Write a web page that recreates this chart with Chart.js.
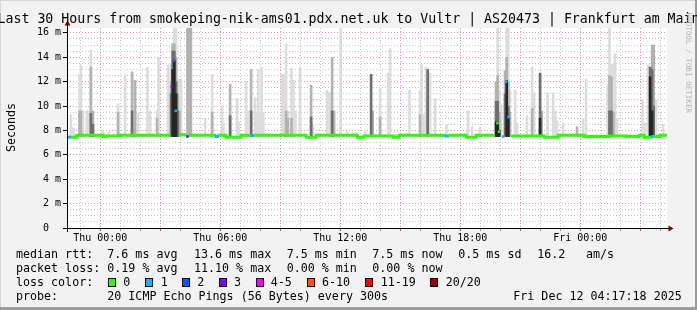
<!DOCTYPE html>
<html><head><meta charset="utf-8">
<script src="https://cdn.jsdelivr.net/npm/chart.js@4.4.0/dist/chart.umd.min.js"></script>
<style>html,body{margin:0;padding:0;background:#f2f2f2;overflow:hidden}canvas{display:block}</style>
</head><body>
<canvas id="c" width="697" height="310"></canvas>
<script>
const titleText = 'Last 30 Hours from smokeping-nik-ams01.pdx.net.uk to Vultr | AS20473 | Frankfurt am Main';
const yAxisTitle = 'Seconds';
const watermark = 'RRDTOOL / TOBI OETIKER';
// x values: hours relative to Thu 00:00
const xStart = -1.665, xEnd = 28.335;
const xLabelHours = [0, 6, 12, 18, 24];
const xLabelTexts = ['Thu 00:00', 'Thu 06:00', 'Thu 12:00', 'Thu 18:00', 'Fri 00:00'];
const yLabelValues = [0, 2, 4, 6, 8, 10, 12, 14, 16];
const yLabelTexts = ['0  ', '2 m', '4 m', '6 m', '8 m', '10 m', '12 m', '14 m', '16 m'];
const yMax = 16.4;
const smokeBase = 7.5;

const smokeTimes = [-1.47,-1.34,-1.04,-0.97,-0.87,-0.67,-0.57,-0.47,-0.37,0.11,0.44,0.89,1.24,1.59,1.74,1.89,2.36,2.49,2.84,2.91,3.39,
 3.54,3.62,3.70,3.79,3.87,3.96,4.04,4.36,4.45,4.53,5.24,5.59,
 6.09,6.16,6.49,6.84,6.91,7.29,7.36,7.54,7.74,7.82,7.90,7.99,8.07,8.15,9.09,9.17,9.29,9.38,9.56,9.66,9.76,9.99,10.54,10.62,11.34,11.46,11.59,11.69,12.02,12.34,12.79,13.24,
 13.54,13.62,13.99,14.39,14.49,15.29,15.46,15.99,16.07,16.16,16.29,16.37,16.49,16.74,17.31,18.39,18.59,18.99,
 19.79,19.87,19.95,20.04,20.24,20.32,20.40,20.48,20.74,
 20.84,21.33,21.59,21.69,21.99,22.07,22.36,22.64,22.74,22.84,23.14,23.84,24.14,24.29,25.36,25.46,25.56,25.66,25.74,25.84,27.11,27.24,27.39,27.49,27.59,27.67,27.79,28.14];
const smokeLight = [9.3,8.2,12.6,13.3,9.6,9.6,9.6,14.6,null,8.0,7.9,10.2,12.6,null,null,9.4,13.2,9.6,9.6,14.0,13.4,
 13.4,15.1,16.5,16.5,12.2,12.2,12.2,null,null,null,9.0,12.6,
 10.0,8.6,null,10.6,8.7,12.0,9.6,null,10.7,9.5,13.0,9.5,13.2,9.5,12.6,12.6,15.1,9.6,13.1,12.1,9.6,13.2,null,8.5,11.3,11.1,null,null,16.5,7.9,7.8,8.0,
 null,null,11.4,12.7,14.7,7.8,11.3,11.3,13.4,9.3,13.2,null,12.7,10.6,8.5,9.6,8.3,8.3,
 12.0,16.5,11.3,10.1,12.9,16.5,16.5,11.3,11.3,
 8.6,9.2,13.2,11.1,null,null,11.1,11.1,9.6,8.8,8.6,null,9.0,12.2,11.8,16.5,13.4,13.4,14.3,9.0,10.5,8.6,13.4,null,null,null,10.5,8.5];
const smokeMid = [null,null,9.6,9.6,null,null,null,13.2,9.6,null,null,9.5,null,12.8,12.1,null,null,null,9.0,null,null,
 12.0,15.1,15.1,14.0,11.0,9.6,null,16.5,16.5,16.5,null,9.5,
 null,null,11.8,null,null,null,null,13.0,null,null,null,null,null,null,null,null,9.6,9.0,9.0,null,null,null,11.7,null,null,null,14.0,9.6,null,null,null,null,
 null,9.6,9.1,null,null,null,null,9.3,null,null,null,10.5,null,null,null,null,null,null,
 12.0,12.5,9.5,null,12.9,14.0,12.0,9.5,null,
 null,null,9.8,null,null,9.6,null,null,null,null,null,8.3,null,null,null,12.5,12.4,9.5,null,null,null,null,null,null,15.0,15.0,null,null];
const smokeDark = [null,null,null,null,null,null,null,9.4,8.5,null,null,null,null,9.6,null,null,null,null,null,null,null,
 11.0,14.5,14.5,12.0,9.6,null,null,null,null,null,null,null,
 null,null,9.2,null,null,null,null,9.6,null,null,null,null,null,null,null,null,null,null,null,null,null,null,9.1,null,null,null,9.6,null,null,null,null,null,
 12.6,null,null,null,null,null,null,null,null,null,null,13.0,null,null,null,null,null,null,
 10.4,10.4,null,null,11.0,null,10.0,null,null,
 null,null,null,null,12.7,null,null,null,null,null,null,null,null,null,null,9.6,9.6,null,null,null,null,null,null,13.2,13.0,10.0,null,null];
const smokeBlack = [null,null,null,null,null,null,null,null,null,null,null,null,null,null,null,null,null,null,null,null,null,
 null,13.0,13.7,11.0,null,null,null,null,null,null,null,null,
 null,null,null,null,null,null,null,null,null,null,null,null,null,null,null,null,null,null,null,null,null,null,null,null,null,null,null,null,null,null,null,null,
 null,null,null,null,null,null,null,null,null,null,null,null,null,null,null,null,null,null,
 8.7,8.7,8.0,null,null,12.1,9.0,null,null,
 null,null,null,null,9.0,null,null,null,null,null,null,null,null,null,null,null,null,null,null,null,null,null,null,12.4,9.6,null,null,null];

// median rtt runs (start hour, value, loss class index)
const medianTimes = [-1.665,-1.47,-1.17,0.14,0.29,0.94,3.50,3.92,4.32,4.42,5.71,5.86,6.29,7.04,7.52,7.69,10.29,10.79,12.84,13.19,14.64,14.94,17.19,17.39,18.29,18.79,19.72,20.54,22.19,22.89,24.19,25.44,26.29,26.94,27.19,27.54,27.64,28.0];
const medianValues = [7.45,7.45,7.6,7.5,7.55,7.6,null,7.65,null,7.6,7.5,7.6,7.45,7.6,7.6,7.6,7.45,7.6,7.45,7.55,7.45,7.6,7.55,7.6,7.45,7.6,null,7.55,7.45,7.6,7.5,7.55,7.5,7.6,7.45,7.5,7.5,7.6];
const medianLoss = [1,0,0,0,0,0,0,0,0,0,1,0,0,0,1,0,0,0,0,0,0,0,1,0,0,0,0,0,0,0,0,0,0,0,0,1,0,0];
const lossPointTimes = [3.58,3.68,3.77,4.36,19.86,19.94,20.14,20.29,20.41];
const lossPointValues = [11.6,13.7,9.6,7.5,8.6,7.9,7.5,12.0,9.1];
const lossPointLoss = [3,2,1,3,0,0,1,1,1];

const lossLabels = ['0','1','2','3','4-5','6-10','11-19','20/20'];
const lossColors = ['#26ff00','#00b8ff','#0059ff','#7e00ff','#ff00ff','#ff5500','#ff0000','#a10000'];
const statsMedian = ['median rtt:','7.6 ms avg','13.6 ms max','7.5 ms min','7.5 ms now','0.5 ms sd','16.2','am/s'];
const statsLoss = ['packet loss:','0.19 % avg','11.10 % max','0.00 % min','0.00 % now'];
const lossColorLabel = 'loss color:';
const probeTexts = ['probe:','20 ICMP Echo Pings (56 Bytes) every 300s','Fri Dec 12 04:17:18 2025'];

// ---------- build ----------
const MONO = '"DejaVu Sans Mono", monospace';
function smokeSet(tops, color, order) {
  const data = [];
  smokeTimes.forEach((t, i) => { if (tops[i] != null) data.push({x: t, y: [smokeBase, Math.min(tops[i], yMax)]}); });
  return {type: 'bar', data, backgroundColor: color, barThickness: 2, grouped: false, borderWidth: 0, order};
}
const medPts = [], medCols = [];
medianTimes.forEach((t, i) => {
  const tEnd = i + 1 < medianTimes.length ? medianTimes[i + 1] : xEnd;
  const v = medianValues[i];
  const col = lossColors[medianLoss[i]];
  medPts.push({x: t, y: v}); medCols.push(col);
  medPts.push({x: tEnd, y: v}); medCols.push(col);
});
const gridHours = []; for (let h = Math.ceil(xStart); h <= xEnd; h++) gridHours.push(h);
const gridY = []; for (let v = 0; v <= 16; v += 0.5) gridY.push(v);
const RED = 'rgba(232,110,110,0.75)', GRAY = 'rgba(150,150,150,0.55)';

const framePlugin = {
  id: 'frame',
  beforeDraw(chart) {
    const {ctx, chartArea: a} = chart;
    ctx.save();
    ctx.fillStyle = '#f2f2f2'; ctx.fillRect(0, 0, 697, 310);
    ctx.fillStyle = '#d6d6d6'; ctx.fillRect(0, 0, 697, 1); ctx.fillRect(0, 0, 1, 310);
    ctx.fillStyle = '#9c9c9c'; ctx.fillRect(695, 0, 2, 310); ctx.fillRect(0, 307, 697, 3);
    ctx.fillStyle = '#ffffff'; ctx.fillRect(a.left, a.top, a.right - a.left, a.bottom - a.top);
    ctx.restore();
  },
  afterDraw(chart) {
    const {ctx, chartArea: a} = chart;
    ctx.save();
    // axes
    ctx.strokeStyle = '#000'; ctx.lineWidth = 1;
    ctx.beginPath(); ctx.moveTo(63, a.bottom + 0.5); ctx.lineTo(669, a.bottom + 0.5); ctx.stroke();
    ctx.beginPath(); ctx.moveTo(a.left + 0.5, a.bottom + 4); ctx.lineTo(a.left + 0.5, 24); ctx.stroke();
    ctx.fillStyle = '#800000';
    ctx.beginPath(); ctx.moveTo(668.5, a.bottom - 2.5); ctx.lineTo(673.5, a.bottom + 0.5); ctx.lineTo(668.5, a.bottom + 3.5); ctx.closePath(); ctx.fill();
    ctx.beginPath(); ctx.moveTo(a.left - 2.5, 25.5); ctx.lineTo(a.left + 0.5, 20.5); ctx.lineTo(a.left + 3.5, 25.5); ctx.closePath(); ctx.fill();
    // title
    ctx.fillStyle = '#000';
    ctx.font = '13.26px ' + MONO; ctx.textAlign = 'center'; ctx.textBaseline = 'alphabetic';
    ctx.fillText(titleText, 348.5, 23);
    // y axis title
    ctx.font = '11.66px ' + MONO;
    ctx.save(); ctx.translate(15, 127.5); ctx.rotate(-Math.PI / 2); ctx.textBaseline = 'alphabetic'; ctx.fillText(yAxisTitle, 0, 0); ctx.restore();
    // watermark
    ctx.save(); ctx.fillStyle = '#b4b4b4'; ctx.font = '7.6px ' + MONO; ctx.translate(686, 12.5); ctx.rotate(Math.PI / 2);
    ctx.textAlign = 'left'; ctx.textBaseline = 'alphabetic'; ctx.fillText(watermark, 0, 0); ctx.restore();
    // legend rows
    ctx.textAlign = 'left'; ctx.textBaseline = 'alphabetic'; ctx.fillStyle = '#000';
    const x1 = [16, 107.3, 194, 286.7, 372.3, 458.3, 537.3, 586];
    statsMedian.forEach((s, i) => ctx.fillText(s, x1[i], 258));
    statsLoss.forEach((s, i) => ctx.fillText(s, x1[i], 272));
    ctx.fillText(lossColorLabel, 16, 286);
    const bx = [108, 145, 182, 219, 256, 307, 365, 430];
    const lx = [123.3, 160.7, 197.3, 234, 270.7, 322, 380.7, 445.7];
    lossLabels.forEach((s, i) => {
      ctx.fillStyle = lossColors[i]; ctx.fillRect(bx[i], 278, 8, 9);
      ctx.strokeStyle = '#000'; ctx.strokeRect(bx[i] + 0.5, 278.5, 7, 8);
      ctx.fillStyle = '#000'; ctx.fillText(s, lx[i], 286);
    });
    ctx.fillText(probeTexts[0], 16, 300);
    ctx.fillText(probeTexts[1], 107.3, 300);
    ctx.fillText(probeTexts[2], 513.3, 300);
    ctx.restore();
  }
};

new Chart(document.getElementById('c'), {
  type: 'bar',
  data: {
    datasets: [
      {type: 'line', data: lossPointTimes.map((t, i) => ({x: t, y: lossPointValues[i]})), showLine: false,
       pointStyle: 'rect', pointRadius: 1.8, pointBorderWidth: 0,
       pointBackgroundColor: lossPointLoss.map(k => lossColors[k]), order: 0},
      {type: 'line', data: medPts, borderWidth: 3, pointRadius: 0, tension: 0, spanGaps: false,
       borderColor: lossColors[0], segment: {borderColor: c => medCols[c.p0DataIndex]}, order: 1},
      smokeSet(smokeBlack, '#262626', 2),
      smokeSet(smokeDark, '#6e6e6e', 3),
      smokeSet(smokeMid, '#b2b2b2', 4),
      smokeSet(smokeLight, '#dcdcdc', 5)
    ]
  },
  options: {
    responsive: false, animation: false, events: [],
    layout: {padding: {left: 0, right: 30, top: 28, bottom: 0}},
    plugins: {legend: {display: false}, tooltip: {enabled: false}, title: {display: false}},
    scales: {
      x: {
        type: 'linear', min: xStart, max: xEnd, offset: false,
        afterBuildTicks: s => { s.ticks = gridHours.map(v => ({value: v})); },
        afterFit: s => { s.height = 82; },
        ticks: {autoSkip: false, maxRotation: 0, minRotation: 0, padding: 1, color: '#000',
          font: {family: MONO, size: 10},
          callback: v => { const k = xLabelHours.indexOf(v); return k >= 0 ? xLabelTexts[k] : ''; }},
        grid: {offset: false, lineWidth: 1, tickLength: 3,
          color: c => (c.tick && c.tick.value % 3 === 0) ? RED : GRAY,
          tickColor: c => (c.tick && c.tick.value % 3 === 0) ? '#e05050' : '#999'},
        border: {display: false, dash: [1, 2]}
      },
      y: {
        min: 0, max: yMax,
        afterBuildTicks: s => { s.ticks = gridY.map(v => ({value: v})); },
        afterFit: s => { s.width = 67; },
        ticks: {autoSkip: false, padding: 2, color: '#000', font: {family: MONO, size: 10},
          callback: v => { const k = yLabelValues.indexOf(v); return k >= 0 ? yLabelTexts[k] : ''; }},
        grid: {lineWidth: 1, tickLength: 4,
          color: c => (c.tick && c.tick.value % 2 === 0) ? RED : GRAY,
          tickColor: c => (c.tick && c.tick.value % 2 === 0) ? '#000' : 'rgba(0,0,0,0)'},
        border: {display: false, dash: [1, 2]}
      }
    }
  },
  plugins: [framePlugin]
});
</script>
</body></html>
